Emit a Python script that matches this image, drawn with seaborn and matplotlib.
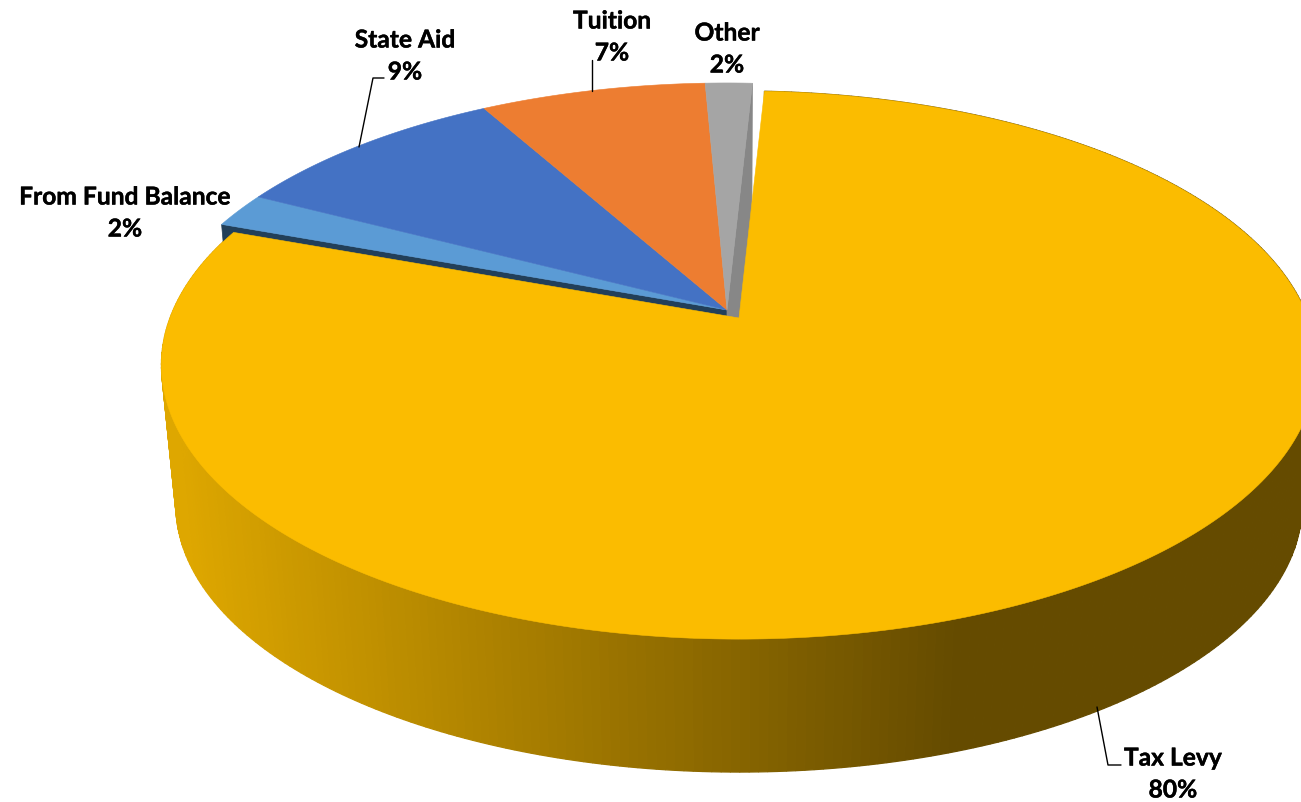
#!/usr/bin/env python3
"""Revenue sources shown as an exploded 3D-look pie."""

import numpy as np
import matplotlib
matplotlib.use("Agg")
import matplotlib.pyplot as plt
import matplotlib.patheffects as pe
from matplotlib.patches import Polygon
import seaborn as sns

# slices run clockwise, starting just right of twelve o'clock
categories = ["Tax Levy", "From Fund Balance", "State Aid", "Tuition", "Other"]
shares = [79.7, 2.05, 9.25, 7.45, 1.55]
share_labels = ["80%", "2%", "9%", "7%", "2%"]
slice_colors = ["#FBBC00", "#5B9BD5", "#4472C4", "#ED7D31", "#A5A5A5"]
cut_colors = ["#FBBC00", "#223F59", "#223F59", "#223F59", "#878787"]
wall_colors = ["#DEA700", "#654B00"]

START_DEG = 3.0
TILT = 0.1716
RX, RY = 569.0, 266.0
WALL_SCALE = 0.975
WALL_DROP = 141.0
TAX_APEX = (739.0, 318.0)
REST_APEX = (727.0, 310.0)


def rim(deg, apex, lower=False):
    """Project clockwise-from-north angles onto the tilted pie disc."""
    t = np.radians(np.asarray(deg, dtype=float))
    u, v = np.sin(t), np.cos(t)
    s = WALL_SCALE if lower else 1.0
    x = apex[0] + s * RX * u / (1 + TILT * v)
    y = apex[1] + (WALL_DROP if lower else 0.0) - s * RY * v / (1 + TILT * v)
    return np.column_stack([x, y])


def draw_wall(ax, a0, a1, apex):
    """Outer wall of a slice, shaded left to right like the original."""
    steps = np.linspace(a0, a1, 361)
    top = rim(steps, apex)
    low = rim(steps, apex, lower=True)
    shades = sns.blend_palette(wall_colors, 256)
    for i in range(len(steps) - 1):
        xm = top[i, 0]
        k = int(np.clip((xm - 175) / (960 - 175), 0, 1) * 255)
        quad = [top[i], top[i + 1], low[i + 1], low[i]]
        ax.add_patch(Polygon(quad, closed=True, fc=shades[k], ec=shades[k], lw=0.9, zorder=1))


sns.set_theme(style="white")
plt.rcParams["font.family"] = ["Lato", "DejaVu Sans"]

fig = plt.figure(figsize=(13.01, 8.02), dpi=100)
ax = fig.add_axes([0, 0, 1, 1])
ax.set_xlim(0, 1301)
ax.set_ylim(802, 0)
ax.axis("off")

edges = START_DEG + np.cumsum([0.0] + [s * 3.6 for s in shares])

# tax levy wall goes below everything
draw_wall(ax, edges[0], edges[1], TAX_APEX)

# cut faces of the pulled-apart group, the tax slice covers most of them
low_apex = (REST_APEX[0], REST_APEX[1] + WALL_DROP)
for deg, col in [(edges[1], cut_colors[1]), (edges[5], cut_colors[4])]:
    p_top = rim([deg], REST_APEX)[0]
    p_low = rim([deg], REST_APEX, lower=True)[0]
    ax.add_patch(Polygon([REST_APEX, p_top, p_low, low_apex], closed=True, fc=col, ec=col, lw=0.5, zorder=2))

# top faces
for i in [1, 2, 3, 4]:
    arc = rim(np.linspace(edges[i], edges[i + 1], 80), REST_APEX)
    ax.add_patch(Polygon(np.vstack([REST_APEX, arc]), closed=True, fc=slice_colors[i],
                         ec=slice_colors[i], lw=0.4, zorder=3))

arc = rim(np.linspace(edges[0], edges[1], 400), TAX_APEX)
ax.add_patch(Polygon(np.vstack([TAX_APEX, arc]), closed=True, fc=slice_colors[0],
                     ec=slice_colors[0], lw=0.4, zorder=4))

# leader lines
ax.plot([359, 373, 384], [147, 78, 78], color="black", lw=1, zorder=5)
ax.plot([592, 592], [91, 60], color="black", lw=1, zorder=5)
ax.plot([1097, 1108, 1121], [707, 765, 765], color="black", lw=1, zorder=5)

label_spots = [(1173, 758), (125, 197), (405, 40), (612, 21), (727, 33)]
heavier = [pe.withStroke(linewidth=0.3, foreground="black")]
for name, pct, (lx, ly) in zip(categories, share_labels, label_spots):
    for txt, ty in [(name, ly), (pct, ly + 32)]:
        ax.text(lx, ty, txt, ha="center", va="center", fontsize=17.7, fontweight="bold",
                color="black", zorder=6, path_effects=heavier)

fig.savefig("out.png", dpi=100, facecolor="white")
